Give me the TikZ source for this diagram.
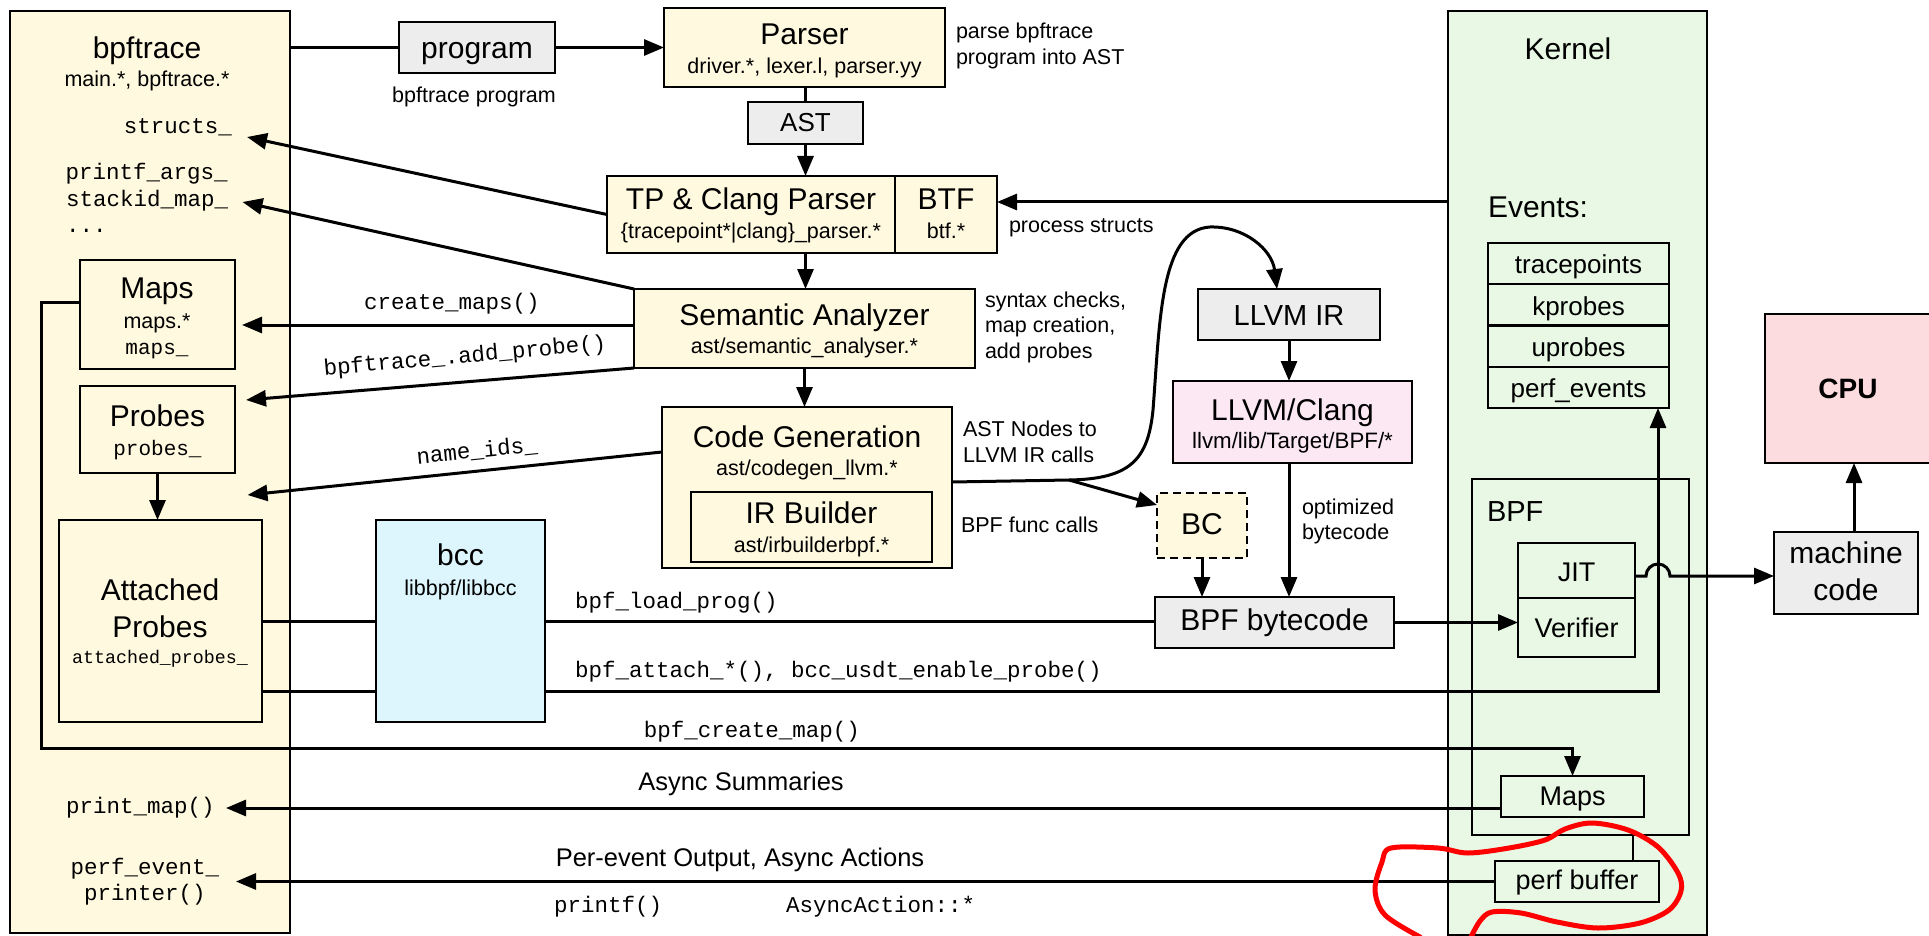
\documentclass[tikz,border=0pt]{standalone}
\usepackage{fontspec}
\setmainfont{Liberation Sans}
\setmonofont{Liberation Mono}
\usetikzlibrary{arrows.meta,calc}
\newcommand\fsz[1]{\fontsize{#1pt}{#1pt}\selectfont}
\definecolor{cream}{HTML}{FFFADF}
\definecolor{greybox}{HTML}{EDEDED}
\definecolor{bccblue}{HTML}{DDF5FC}
\definecolor{llvmpink}{HTML}{FCE8F3}
\definecolor{kgreen}{HTML}{E8F8E4}
\definecolor{cpupink}{HTML}{FCDCDE}
\begin{document}
\begin{tikzpicture}[x=1pt,y=-1pt,
  box/.style={draw=black, line width=2pt, inner sep=0pt, outer sep=0pt, rectangle},
  conn/.style={line width=3pt},
  arr/.style={conn, -{Triangle[length=20pt,width=16pt]}},
  txt/.style={inner sep=0pt, outer sep=0pt, anchor=base},
  ttl/.style={txt, font=\fsz{30}},
  sub/.style={txt, font=\fsz{21.5}},
  lbl/.style={txt, anchor=base west, font=\fsz{21.5}},
  mid/.style={txt, font=\fsz{25.5}},
  mono/.style={txt, font=\ttfamily\fsz{22.5}},
  smono/.style={txt, font=\ttfamily\fsz{21}},
]
\useasboundingbox (0,0) rectangle (1929,936);
% ---------- containers ----------
\node[box, fill=cream, minimum width=280pt, minimum height=922pt] (bpf) at (150,472) {};
\node[box, fill=kgreen, minimum width=259pt, minimum height=924pt] (kernel) at (1577.5,473) {};
\node[box, minimum width=217pt, minimum height=356pt] (bpfk) at (1580.5,657) {};
% ---------- boxes ----------
\node[box, fill=cream, minimum width=155pt, minimum height=109pt] (maps) at (157.5,314.5) {};
\node[box, fill=cream, minimum width=155pt, minimum height=87pt] (probes) at (157.5,429.5) {};
\node[box, fill=cream, minimum width=203pt, minimum height=202pt] (att) at (160.5,621) {};
\node[box, fill=bccblue, minimum width=169pt, minimum height=202pt] (bcc) at (460.5,621) {};
\node[box, fill=greybox, minimum width=156pt, minimum height=51pt] (prog) at (477,47.5) {};
\node[box, fill=cream, minimum width=281pt, minimum height=79pt] (parser) at (804.5,47.5) {};
\node[box, fill=greybox, minimum width=115pt, minimum height=42pt] (ast) at (805.5,123) {};
\node[box, fill=cream, minimum width=288pt, minimum height=77pt] (tp) at (751,214.5) {};
\node[box, fill=cream, minimum width=102pt, minimum height=77pt] (btf) at (946,214.5) {};
\node[box, fill=cream, minimum width=341pt, minimum height=79pt] (sem) at (804.5,328.5) {};
\node[box, fill=cream, minimum width=290pt, minimum height=161pt] (cg) at (807,487.5) {};
\node[box, fill=cream, minimum width=241pt, minimum height=70pt] (irb) at (811.5,527) {};
\node[box, fill=cream, dash pattern=on 8pt off 5pt, minimum width=90pt, minimum height=65pt] (bc) at (1202,525.5) {};
\node[box, fill=greybox, minimum width=182pt, minimum height=51pt] (llvmir) at (1289,314.5) {};
\node[box, fill=llvmpink, minimum width=239pt, minimum height=82pt] (clang) at (1292.5,422) {};
\node[box, fill=greybox, minimum width=239pt, minimum height=51pt] (bpfbc) at (1274.5,622.5) {};
\node[box, minimum width=181pt, minimum height=41.25pt] (ev1) at (1578.5,263.6) {};
\node[box, minimum width=181pt, minimum height=41.25pt] (ev2) at (1578.5,304.9) {};
\node[box, minimum width=181pt, minimum height=41.25pt] (ev3) at (1578.5,346.1) {};
\node[box, minimum width=181pt, minimum height=41.25pt] (ev4) at (1578.5,387.4) {};
\node[box, minimum width=117pt, minimum height=55pt] (jit) at (1576.5,570.5) {};
\node[box, minimum width=117pt, minimum height=59pt] (ver) at (1576.5,627.5) {};
\node[box, minimum width=143pt, minimum height=41pt] (kmaps) at (1572.5,796.5) {};
\node[box, minimum width=164pt, minimum height=41pt] (perfbuf) at (1577,881.5) {};
\node[box, fill=greybox, minimum width=144pt, minimum height=82pt] (mc) at (1846,573) {};
\node[box, fill=cpupink, minimum width=175pt, minimum height=149pt] (cpu) at (1852.5,388.5) {};
% ---------- helper coordinates ----------
\coordinate (structsTip) at (247,137);
\coordinate (stackTip) at (242.5,202);
\coordinate (mapsTip) at (242,325);
\coordinate (probesTip) at (246,400);
\coordinate (nameTip) at (247.5,495);
\coordinate (pmTip) at (226,808);
\coordinate (yBTF) at (0,202);
\coordinate (yName) at (0,452);
\coordinate (yMapsC) at (0,302);
\coordinate (xMapsC) at (41,0);
\coordinate (yCreate) at (0,748);
\coordinate (yAtt) at (0,691);
\coordinate (xAtt) at (1658,0);
\coordinate (yJit) at (0,576);
\coordinate (xCpu) at (1854,0);
\coordinate (yBranch) at (0,482);
\coordinate (branch) at (1069,480);
\coordinate (yAsync) at (0,808);
\coordinate (xPe) at (236,0);
\coordinate (xPb) at (1633,0);
\coordinate (irTip) at ($(llvmir.north)+(-12,0)$);
\coordinate (bcTip) at ($(bc.north west)+(0,12)$);
% ---------- connectors ----------
\draw[conn] (prog.west) -- (prog.west -| bpf.east);
\draw[arr] (prog.east) -- (prog.east -| parser.west);
\draw[conn] (ast.north |- parser.south) -- (ast.north);
\draw[arr] (ast.south) -- (ast.south |- tp.north);
\draw[arr] (ast.south |- tp.south) -- (ast.south |- sem.north);
\draw[arr] (sem.south) -- (sem.south |- cg.north);
\draw[arr] (kernel.west |- yBTF) -- (btf.east |- yBTF);
\draw[arr] (tp.west) -- (structsTip);
\draw[arr] (sem.north west) -- (stackTip);
\draw[arr] (sem.west |- mapsTip) -- (mapsTip);
\draw[arr] (sem.south west) -- (probesTip);
\draw[arr] (cg.west |- yName) -- (nameTip);
\draw[arr] (probes.south) -- (probes.south |- att.north);
\draw[arr] (maps.west |- yMapsC) -- (xMapsC |- yMapsC) -- (xMapsC |- yCreate) -- (kmaps.north |- yCreate) -- (kmaps.north);
\draw[conn] (att.east) -- (bcc.west);
\draw[conn] (bcc.east) -- (bcc.east -| bpfbc.west);
\draw[arr] (bpfbc.east) -- (bpfbc.east -| ver.west);
\draw[conn] (att.east |- yAtt) -- (bcc.west |- yAtt);
\draw[arr] (bcc.east |- yAtt) -- (xAtt |- yAtt) -- (xAtt |- ev4.south);
\draw[arr] (jit.east |- yJit) -- ($(xAtt |- yJit)+(-12,0)$) arc[start angle=180,end angle=0,radius=12pt] -- (mc.west |- yJit);
\draw[arr] (xCpu |- mc.north) -- (xCpu |- cpu.south);
\draw[arr] (llvmir.south) -- (llvmir.south |- clang.north);
\draw[arr] (llvmir.south |- clang.south) -- (llvmir.south |- bpfbc.north);
\draw[arr] (bc.south) -- (bc.south |- bpfbc.north);
\draw[arr] (cg.east |- yBranch) -- (branch) .. controls (1130,479) and (1148,460) .. (1153,410) .. controls (1160,320) and (1160,230) .. (1210,227) .. controls (1245,226) and (1272,250) .. (irTip);
\draw[arr] (branch) -- (bcTip);
\draw[arr] (kmaps.west |- yAsync) -- (pmTip);
\draw[arr] (perfbuf.west) -- (xPe |- perfbuf.west);
\draw[line width=2pt] (xPb |- perfbuf.north) -- (xPb |- bpfk.south);
% ---------- texts ----------
\node[ttl] (tBpf) at (147,59) {bpftrace};
\node[sub] (tBpfS) at (147,87) {main.*, bpftrace.*};
\node[mono, anchor=base east] (tStructs) at (232,134) {structs\_};
\node[mono, anchor=base west] (tPrintf) at (65.5,180) {printf\_args\_};
\node[mono, anchor=base west] (tStack) at (66,207) {stackid\_map\_};
\node[mono, anchor=base west] (tDots) at (66,233) {...};
\node[ttl] (tMaps) at (157,298) {Maps};
\node[sub] (tMapsS) at (157,328) {maps.*};
\node[smono] (tMapsM) at (157,354) {maps\_};
\node[ttl] (tProbes) at (157.5,426) {Probes};
\node[smono] (tProbesM) at (157.5,455) {probes\_};
\node[ttl] (tAtt1) at (160,600) {Attached};
\node[ttl] (tAtt2) at (160,637) {Probes};
\node[txt, font=\ttfamily\fsz{18.3}] (tAttM) at (160,663) {attached\_probes\_};
\node[mono, anchor=base west] (tPrintMap) at (66,813) {print\_map()};
\node[mono] (tPerfEv1) at (145,874) {perf\_event\_};
\node[mono] (tPerfEv2) at (145,900) {printer()};
\node[ttl] (tProg) at (477,59) {program};
\node[sub] (tProgL) at (474,103) {bpftrace program};
\node[ttl] (tParser) at (804.5,45) {Parser};
\node[sub] (tParserS) at (804.5,74) {driver.*, lexer.l, parser.yy};
\node[lbl] (tParse1) at (956,39) {parse bpftrace};
\node[lbl] (tParse2) at (956,65) {program into AST};
\node[txt, font=\fsz{26}] (tAst) at (805.5,132) {AST};
\node[ttl] (tTp) at (751,210) {TP \& Clang Parser};
\node[sub] (tTpS) at (751,238) {\{tracepoint*|clang\}\_parser.*};
\node[ttl] (tBtf) at (946,210) {BTF};
\node[sub] (tBtfS) at (946,238) {btf.*};
\node[lbl] (tProc) at (1009,233) {process structs};
\node[ttl] (tSem) at (804.5,325) {Semantic Analyzer};
\node[sub] (tSemS) at (804.5,353) {ast/semantic\_analyser.*};
\node[lbl] (tSyn1) at (985,307) {syntax checks,};
\node[lbl] (tSyn2) at (985,332) {map creation,};
\node[lbl] (tSyn3) at (985,358) {add probes};
\node[mono] (tCreate) at (452,309) {create\_maps()};
\node[mono, anchor=center, rotate=5.2] (tAddProbe) at (465,357) {bpftrace\_.add\_probe()};
\node[mono, anchor=center, rotate=5.9] (tNameIds) at (477,451) {name\_ids\_};
\node[ttl] (tCg) at (807,447) {Code Generation};
\node[sub] (tCgS) at (807,475) {ast/codegen\_llvm.*};
\node[ttl] (tIrb) at (811.5,523) {IR Builder};
\node[sub] (tIrbS) at (811.5,552) {ast/irbuilderbpf.*};
\node[lbl] (tAstN1) at (963,436) {AST Nodes to};
\node[lbl] (tAstN2) at (963,462) {LLVM IR calls};
\node[lbl] (tBpfFunc) at (961,532) {BPF func calls};
\node[ttl] (tBcc) at (460.5,565) {bcc};
\node[sub] (tBccS) at (460.5,595) {libbpf/libbcc};
\node[mono, anchor=base west] (tLoad) at (575,608) {bpf\_load\_prog()};
\node[mono, anchor=base west] (tAttach) at (575,677) {bpf\_attach\_*(), bcc\_usdt\_enable\_probe()};
\node[mono] (tCreateMap) at (752,737) {bpf\_create\_map()};
\node[mid] (tAsync) at (741,790) {Async Summaries};
\node[mid] (tPerEv) at (740,866) {Per-event Output, Async Actions};
\node[mono, anchor=base west] (tPrintf2) at (554,912) {printf()};
\node[mono, anchor=base west] (tAsyncAct) at (786,912) {AsyncAction::*};
\node[ttl] (tBc) at (1202,534) {BC};
\node[txt, font=\fsz{29}] (tLlvmIr) at (1289,325) {LLVM IR};
\node[ttl] (tClang) at (1292.5,420) {LLVM/Clang};
\node[txt, font=\fsz{22.3}] (tClangS) at (1292.5,448) {llvm/lib/Target/BPF/*};
\node[lbl] (tOpt1) at (1302,514) {optimized};
\node[lbl] (tOpt2) at (1302,539) {bytecode};
\node[ttl] (tBpfbc) at (1274.5,630) {BPF bytecode};
\node[ttl] (tKernel) at (1568,60) {Kernel};
\node[ttl, anchor=base west] (tEvents) at (1488,218) {Events:};
\node[txt, font=\fsz{26}] (tEv1) at (1578.5,273.5) {tracepoints};
\node[txt, font=\fsz{26}] (tEv2) at (1578.5,315) {kprobes};
\node[txt, font=\fsz{26}] (tEv3) at (1578.5,356) {uprobes};
\node[txt, font=\fsz{26}] (tEv4) at (1578.5,397) {perf\_events};
\node[txt, anchor=base west, font=\fsz{29}] (tBpfK) at (1487,521) {BPF};
\node[txt, font=\fsz{27}] (tJit) at (1576.5,581) {JIT};
\node[txt, font=\fsz{27}] (tVer) at (1576.5,637) {Verifier};
\node[txt, font=\fsz{27}] (tKmaps) at (1572.5,805) {Maps};
\node[txt, font=\fsz{27}] (tPerfBuf) at (1577,889) {perf buffer};
\node[ttl] (tMc1) at (1846,563) {machine};
\node[ttl] (tMc2) at (1846,600) {code};
\node[txt, font=\bfseries\fsz{28}] (tCpu) at (1848,398) {CPU};
% ---------- red hand-drawn loop ----------
\draw[red, line width=5pt, line cap=round, line join=round] plot[smooth, tension=0.55] coordinates {(1420,937) (1385,915) (1375,890) (1382,862) (1391,848) (1438,848) (1468,853) (1509,848) (1545,840) (1565,829) (1592,823) (1628,830) (1658,847) (1678,873) (1681,891) (1669,910) (1640,923) (1598,928) (1557,922) (1521,913) (1492,912) (1480,921) (1471,937)};
\end{tikzpicture}
\end{document}
